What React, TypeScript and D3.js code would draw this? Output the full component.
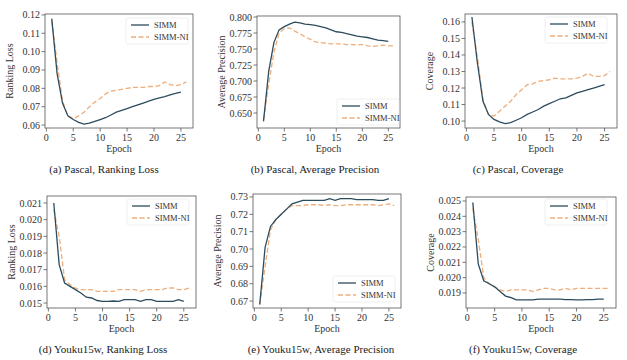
import React from "react";
import * as d3 from "d3";

const epochsSIMM = d3.range(1, 26);
const epochsNI = d3.range(1, 27);

const pascalRL_SIMM = [0.118, 0.088, 0.072, 0.065, 0.063, 0.0615, 0.0605, 0.061, 0.062, 0.063, 0.064, 0.0655, 0.067, 0.068, 0.069, 0.070, 0.071, 0.072, 0.073, 0.074, 0.0748, 0.0755, 0.0765, 0.0772, 0.078];
const pascalRL_NI = [0.117, 0.094, 0.073, 0.065, 0.0635, 0.065, 0.067, 0.070, 0.0725, 0.0745, 0.077, 0.0785, 0.079, 0.0795, 0.080, 0.0805, 0.0805, 0.0805, 0.081, 0.081, 0.0815, 0.0835, 0.082, 0.0815, 0.082, 0.0835];

const pascalAP_SIMM = [0.637, 0.715, 0.760, 0.780, 0.785, 0.789, 0.792, 0.791, 0.789, 0.788, 0.787, 0.785, 0.783, 0.780, 0.777, 0.776, 0.774, 0.772, 0.770, 0.769, 0.768, 0.766, 0.764, 0.763, 0.762];
const pascalAP_NI = [0.640, 0.695, 0.745, 0.775, 0.782, 0.783, 0.778, 0.774, 0.769, 0.765, 0.761, 0.760, 0.759, 0.758, 0.758, 0.758, 0.757, 0.757, 0.757, 0.757, 0.755, 0.754, 0.755, 0.756, 0.755, 0.755];

const pascalCov_SIMM = [0.163, 0.135, 0.112, 0.104, 0.101, 0.0995, 0.0985, 0.099, 0.1005, 0.102, 0.104, 0.1055, 0.107, 0.109, 0.1105, 0.112, 0.1135, 0.114, 0.1155, 0.117, 0.118, 0.119, 0.120, 0.121, 0.122];
const pascalCov_NI = [0.160, 0.138, 0.113, 0.104, 0.103, 0.106, 0.109, 0.112, 0.116, 0.119, 0.122, 0.1225, 0.124, 0.1245, 0.125, 0.126, 0.1255, 0.1255, 0.1255, 0.126, 0.127, 0.129, 0.127, 0.127, 0.1275, 0.130];

const youkuRL_SIMM = [0.0210, 0.0173, 0.0162, 0.0160, 0.0158, 0.0156, 0.01535, 0.0153, 0.01515, 0.0151, 0.0151, 0.01512, 0.0151, 0.0152, 0.0152, 0.0152, 0.0151, 0.0152, 0.0152, 0.0151, 0.0151, 0.0151, 0.0151, 0.0152, 0.0151];
const youkuRL_NI = [0.0206, 0.0190, 0.0164, 0.0161, 0.0159, 0.0158, 0.0158, 0.0158, 0.0157, 0.0157, 0.0157, 0.0157, 0.0158, 0.0158, 0.0158, 0.0158, 0.0157, 0.0158, 0.0158, 0.0158, 0.0158, 0.0159, 0.0159, 0.0158, 0.0158, 0.0159];

const youkuAP_SIMM = [0.668, 0.701, 0.713, 0.717, 0.720, 0.723, 0.726, 0.727, 0.728, 0.728, 0.728, 0.728, 0.728, 0.729, 0.728, 0.729, 0.729, 0.729, 0.7285, 0.7285, 0.7285, 0.7285, 0.728, 0.728, 0.729];
const youkuAP_NI = [0.668, 0.690, 0.711, 0.717, 0.720, 0.723, 0.725, 0.725, 0.725, 0.7255, 0.7255, 0.7255, 0.725, 0.7255, 0.725, 0.725, 0.7255, 0.7255, 0.7255, 0.7255, 0.7255, 0.7255, 0.725, 0.7255, 0.726, 0.725];

const youkuCov_SIMM = [0.0249, 0.0209, 0.0198, 0.0196, 0.0194, 0.0191, 0.0188, 0.0187, 0.01855, 0.01855, 0.01855, 0.01855, 0.0186, 0.0186, 0.0186, 0.0186, 0.0186, 0.01857, 0.01857, 0.01855, 0.01855, 0.01857, 0.01857, 0.0186, 0.0186];
const youkuCov_NI = [0.0245, 0.0225, 0.0200, 0.0196, 0.0194, 0.0192, 0.0191, 0.0192, 0.0192, 0.0192, 0.0192, 0.0191, 0.0192, 0.0193, 0.0193, 0.0192, 0.0192, 0.0193, 0.0192, 0.0193, 0.0193, 0.0193, 0.0193, 0.0193, 0.0193, 0.0193];

const xTicks = [0, 5, 10, 15, 20, 25];
const seriesNames = ["SIMM", "SIMM-NI"];
const captions = [
  "(a) Pascal, Ranking Loss",
  "(b) Pascal, Average Precision",
  "(c) Pascal, Coverage",
  "(d) Youku15w, Ranking Loss",
  "(e) Youku15w, Average Precision",
  "(f) Youku15w, Coverage",
];
const yLabels = ["Ranking Loss", "Average Precision", "Coverage", "Ranking Loss", "Average Precision", "Coverage"];
const yTicksList = [
  [0.06, 0.07, 0.08, 0.09, 0.10, 0.11, 0.12],
  [0.650, 0.675, 0.700, 0.725, 0.750, 0.775, 0.800],
  [0.10, 0.11, 0.12, 0.13, 0.14, 0.15, 0.16],
  [0.015, 0.016, 0.017, 0.018, 0.019, 0.020, 0.021],
  [0.67, 0.68, 0.69, 0.70, 0.71, 0.72, 0.73],
  [0.019, 0.020, 0.021, 0.022, 0.023, 0.024, 0.025],
];
const yFormats = [".2f", ".3f", ".2f", ".3f", ".2f", ".3f"];
const yDomains: [number, number][] = [
  [0.0584, 0.1205],
  [0.6266, 0.8016],
  [0.0958, 0.1648],
  [0.0147, 0.02142],
  [0.666, 0.7317],
  [0.01802, 0.02526],
];
const dataSIMM = [pascalRL_SIMM, pascalAP_SIMM, pascalCov_SIMM, youkuRL_SIMM, youkuAP_SIMM, youkuCov_SIMM];
const dataNI = [pascalRL_NI, pascalAP_NI, pascalCov_NI, youkuRL_NI, youkuAP_NI, youkuCov_NI];

// layout
const boxes = [
  { x0: 45, x1: 193, y0: 14, y1: 128 },
  { x0: 257, x1: 400, y0: 16, y1: 128 },
  { x0: 465, x1: 617, y0: 14, y1: 128 },
  { x0: 47, x1: 196, y0: 196, y1: 308 },
  { x0: 253, x1: 401, y0: 194, y1: 308 },
  { x0: 466, x1: 616, y0: 197, y1: 308 },
];
const captionX = [104, 315, 518, 103, 321, 523];
const legendPos = [
  { x: 131, y: 25 },
  { x: 342, y: 106 },
  { x: 550, y: 24 },
  { x: 132, y: 206 },
  { x: 338, y: 283 },
  { x: 550, y: 206 },
];

const C_SIMM = "#2c4c5e";
const C_NI = "#eeae7c";
const FONT = "'Liberation Serif', 'DejaVu Serif', serif";
const TXT = "#333";

function Panel({ i }: { i: number }) {
  const b = boxes[i];
  const x = d3.scaleLinear().domain([-0.25, 27.25]).range([b.x0, b.x1]);
  const y = d3.scaleLinear().domain(yDomains[i]).range([b.y1, b.y0]);
  const fmt = d3.format(yFormats[i]);
  const line = d3
    .line<[number, number]>()
    .x((d) => x(d[0]))
    .y((d) => y(d[1]));
  const s1 = epochsSIMM.map((e, k) => [e, dataSIMM[i][k]] as [number, number]);
  const s2 = epochsNI.map((e, k) => [e, dataNI[i][k]] as [number, number]);
  const lg = legendPos[i];
  const cx = (b.x0 + b.x1) / 2;
  return (
    <g fontFamily={FONT}>
      <path d={line(s2) || ""} fill="none" stroke={C_NI} strokeWidth={1.3} strokeDasharray="5,2.5" />
      <path d={line(s1) || ""} fill="none" stroke={C_SIMM} strokeWidth={1.3} />
      <rect x={b.x0} y={b.y0} width={b.x1 - b.x0} height={b.y1 - b.y0} fill="none" stroke="#555" strokeWidth={0.8} />
      {xTicks.map((t) => (
        <g key={t}>
          <line x1={x(t)} x2={x(t)} y1={b.y1} y2={b.y1 + 3.5} stroke="#555" strokeWidth={0.8} />
          <text x={x(t)} y={b.y1 + 13} fontSize={10} textAnchor="middle" fill={TXT}>
            {t}
          </text>
        </g>
      ))}
      {yTicksList[i].map((t) => (
        <g key={t}>
          <line x1={b.x0 - 3.5} x2={b.x0} y1={y(t)} y2={y(t)} stroke="#555" strokeWidth={0.8} />
          <text x={b.x0 - 5} y={y(t) + 3.5} fontSize={10} textAnchor="end" fill={TXT}>
            {fmt(t)}
          </text>
        </g>
      ))}
      <text x={cx} y={b.y1 + 24} fontSize={10} textAnchor="middle" fill={TXT}>
        Epoch
      </text>
      <text
        transform={`translate(${b.x0 - 32},${(b.y0 + b.y1) / 2}) rotate(-90)`}
        fontSize={10}
        textAnchor="middle"
        fill={TXT}
      >
        {yLabels[i]}
      </text>
      <g>
        <rect x={lg.x - 5} y={lg.y - 7} width={62} height={26} rx={2} fill="white" fillOpacity={0.8} stroke="#e4e4e4" strokeWidth={0.6} />
        <line x1={lg.x} x2={lg.x + 18} y1={lg.y} y2={lg.y} stroke={C_SIMM} strokeWidth={1.3} />
        <text x={lg.x + 23} y={lg.y + 3} fontSize={8.5} fill={TXT}>
          {seriesNames[0]}
        </text>
        <line x1={lg.x} x2={lg.x + 18} y1={lg.y + 12} y2={lg.y + 12} stroke={C_NI} strokeWidth={1.3} strokeDasharray="5,2.5" />
        <text x={lg.x + 23} y={lg.y + 15} fontSize={8.5} fill={TXT}>
          {seriesNames[1]}
        </text>
      </g>
      <text x={captionX[i]} y={b.y1 + 45} fontSize={11} textAnchor="middle" fill="#222">
        {captions[i]}
      </text>
    </g>
  );
}

export default function App() {
  return (
    <svg
      width={627}
      height={360}
      style={{ position: "fixed", left: 0, top: 0, background: "white" }}
    >
      <rect width={627} height={360} fill="white" />
      {captions.map((_, i) => (
        <Panel key={i} i={i} />
      ))}
    </svg>
  );
}
